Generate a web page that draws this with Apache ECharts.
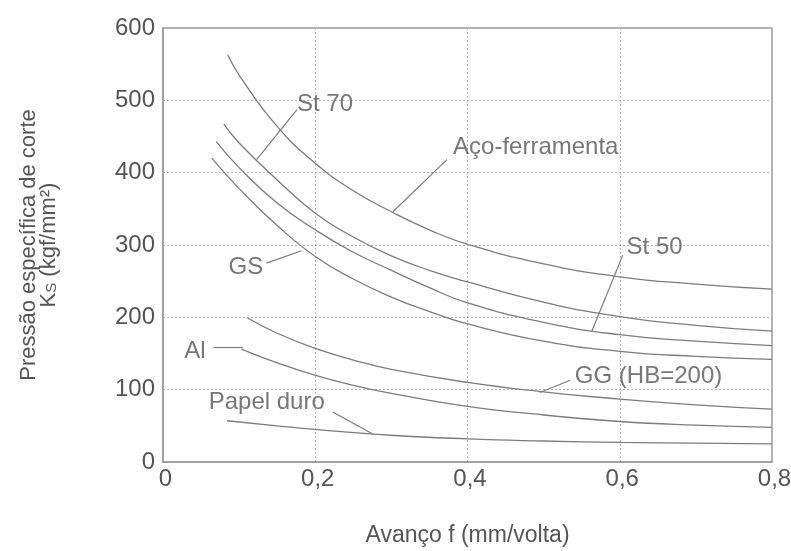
<!DOCTYPE html>
<html><head><meta charset="utf-8">
<script src="https://cdn.jsdelivr.net/npm/echarts@6/dist/echarts.min.js"></script>
<style>html,body{margin:0;padding:0;background:#fff}#c{width:791px;height:551px}</style>
</head><body><div id="c"></div>
<script>
// ---- data ----
const xTicks = [0, 0.2, 0.4, 0.6, 0.8];
const yTicks = [0, 100, 200, 300, 400, 500, 600];

const acoX   = [0.085, 0.1, 0.15, 0.2, 0.25, 0.3, 0.35, 0.4, 0.5, 0.6, 0.7, 0.8];
const acoY   = [563, 535, 464, 413, 375, 346, 321, 301, 274, 256, 246, 239];
const st70X  = [0.08, 0.1, 0.15, 0.2, 0.25, 0.3, 0.35, 0.4, 0.5, 0.6, 0.7, 0.8];
const st70Y  = [467, 441, 390, 344, 311, 285, 265, 249, 221, 201, 189, 181];
const st50X  = [0.07, 0.1, 0.15, 0.2, 0.25, 0.3, 0.35, 0.4, 0.5, 0.6, 0.7, 0.8];
const st50Y  = [443, 407, 358, 321, 290, 265, 241, 220, 193, 176, 167, 161];
const gsX    = [0.064, 0.1, 0.15, 0.2, 0.25, 0.3, 0.35, 0.4, 0.5, 0.6, 0.7, 0.8];
const gsY    = [420, 378, 327, 284, 253, 228, 208, 191, 167, 153, 146, 142];
const ggX    = [0.111, 0.15, 0.2, 0.25, 0.3, 0.4, 0.5, 0.6, 0.7, 0.8];
const ggY    = [199, 178, 157, 141, 128, 110, 97, 87, 79, 73];
const alX    = [0.103, 0.15, 0.2, 0.25, 0.3, 0.4, 0.5, 0.6, 0.7, 0.8];
const alY    = [156, 137, 120, 106, 95, 77, 65, 56, 51, 48];
const papelX = [0.084, 0.15, 0.2, 0.3, 0.4, 0.5, 0.6, 0.7, 0.8];
const papelY = [57, 50, 45, 37, 32, 29, 27, 26, 25];

const curveNames = ['Aço-ferramenta', 'St 70', 'St 50', 'GS', 'GG (HB=200)', 'Al', 'Papel duro'];
const curveXs = [acoX, st70X, st50X, gsX, ggX, alX, papelX];
const curveYs = [acoY, st70Y, st50Y, gsY, ggY, alY, papelY];

// annotation leaders (data coords): [curve point, label end]
const leaderFrom = [[0.302, 346], [0.123, 418], [0.563, 180], [0.182, 292], [0.495, 96], [0.105, 158], [0.275, 39]];
const leaderTo   = [[0.373, 418], [0.176, 487], [0.604, 286], [0.136, 275], [0.535, 113], [0.066, 158], [0.223, 69]];
// label anchor (left edge, vertical middle) in data coords
const labelAt    = [[0.381, 435], [0.176, 495], [0.609, 297], [0.086, 269], [0.541, 118], [0.028, 153], [0.060, 83]];

// ---- chart ----
const FONT = '"Liberation Sans", Arial, sans-serif';
const TXT = '#555555';
const LINE = '#7c7c7c';

const series = curveNames.map((n, i) => ({
  name: n,
  type: 'line',
  smooth: 0.5,
  showSymbol: false,
  silent: true,
  lineStyle: { color: LINE, width: 1.3 },
  data: curveXs[i].map((x, j) => [x, curveYs[i][j]]),
  markLine: {
    silent: true,
    symbol: ['none', 'none'],
    lineStyle: { color: LINE, width: 1.2, type: 'solid' },
    label: { show: false },
    data: [[{ coord: leaderFrom[i] }, { coord: leaderTo[i] }]]
  }
}));

series.push({
  type: 'scatter',
  symbolSize: 0,
  silent: true,
  data: curveNames.map((n, i) => ({ name: n, value: labelAt[i] })),
  label: {
    show: true,
    position: 'right',
    distance: 0,
    formatter: p => p.name,
    color: TXT,
    fontFamily: FONT,
    fontSize: 24
  }
});

const chart = echarts.init(document.getElementById('c'), null, { renderer: 'canvas' });
chart.setOption({
  animation: false,
  backgroundColor: '#fff',
  grid: { left: 163, right: 19, top: 28, bottom: 89, show: true, borderColor: '#9a9a9a', borderWidth: 1.5,
          containLabel: false, outerBoundsMode: 'none' },
  xAxis: {
    type: 'value', min: xTicks[0], max: xTicks[xTicks.length - 1], interval: 0.2,
    name: 'Avanço f (mm/volta)', nameLocation: 'middle', nameGap: 62,
    nameTextStyle: { color: TXT, fontFamily: FONT, fontSize: 23 },
    axisLine: { show: true, lineStyle: { color: '#9a9a9a', width: 1.5 } },
    axisTick: { show: false },
    axisLabel: { color: TXT, fontFamily: FONT, fontSize: 24, margin: 5, padding: [0, 0, 0, 5],
      formatter: v => v === 0 ? '0' : v.toFixed(1).replace('.', ',') },
    splitLine: { show: true, lineStyle: { color: '#b5b5b5', type: [2, 2], width: 1 } }
  },
  yAxis: {
    type: 'value', min: yTicks[0], max: yTicks[yTicks.length - 1], interval: 100,
    name: 'Pressão específica de corte\nK{s|S} (kgf/mm²)', nameLocation: 'middle', nameGap: 104, nameRotate: 90,
    nameTextStyle: { color: TXT, fontFamily: FONT, fontSize: 22, lineHeight: 20,
      rich: { s: { fontSize: 15, fontFamily: FONT, color: TXT, verticalAlign: 'bottom', padding: [10, 0, 0, 0] } } },
    axisLine: { show: true, lineStyle: { color: '#9a9a9a', width: 1.5 } },
    axisTick: { show: false },
    axisLabel: { color: TXT, fontFamily: FONT, fontSize: 24, margin: 8 },
    splitLine: { show: true, lineStyle: { color: '#b5b5b5', type: [2, 2], width: 1 } }
  },
  series: series
});
</script></body></html>
